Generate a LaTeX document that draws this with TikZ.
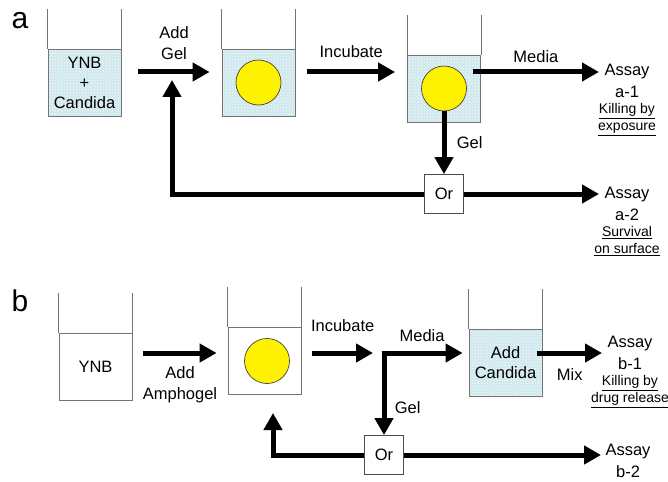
\documentclass[tikz,border=0pt]{standalone}
\usepackage{fontspec}
\setmainfont{Liberation Sans}
\usetikzlibrary{arrows.meta,patterns,positioning}

\definecolor{water}{RGB}{206,232,238}
\definecolor{gelyellow}{RGB}{255,242,0}

\tikzset{
  flow/.style={line width=5pt, -{Triangle[length=17pt,width=18pt]}},
  wall/.style={draw=black!55, line width=0.8pt},
  liquid/.style={wall, minimum width=73pt, minimum height=67pt, inner sep=0pt,
    align=center, font=\fontsize{16.5}{20}\selectfont},
  filled/.style={preaction={fill=water}, pattern=crosshatch dots, pattern color=white},
  gel/.style={circle, draw=black!75, line width=0.7pt, fill=gelyellow,
    minimum size=45pt, inner sep=0pt},
  orbox/.style={draw=black!70, line width=0.8pt, fill=white, minimum size=39pt,
    inner sep=0pt, font=\fontsize{16.5}{18}\selectfont},
  lbl/.style={align=center, font=\fontsize{16.5}{20.5}\selectfont},
  assay/.style={align=center, font=\fontsize{16.5}{22}\selectfont},
  note/.style={align=center, font=\fontsize{14}{17}\selectfont},
  panel/.style={font=\fontsize{30}{30}\selectfont, inner sep=0pt}
}

\begin{document}
\begin{tikzpicture}[x=1pt, y=-1pt]
  \useasboundingbox (0,0) rectangle (668,481);

  % Panel a
  \node[panel] (pa) at (20,20.5) {a};
  \node[liquid, filled] (a1) at (84.5,82.5) {YNB\\+\\Candida};
  \node[liquid, filled] (a2) at (258.5,82.5) {};
  \node[liquid, filled] (a3) at (444,88.5) {};
  \node[gel] (ga2) at (a2) {};
  \node[gel] (ga3) at (a3) {};
  \node[orbox] (ora) at (444,194) {Or};
  \node[assay] (asa1) at (627,81) {Assay\\a-1};
  \node[note, below=-1pt of asa1] (nta1) {\underline{Killing by}\\\underline{exposure}};
  \node[assay] (asa2) at (627,204) {Assay\\a-2};
  \node[note, below=-1pt of asa2] (nta2) {\underline{Survival}\\\underline{on surface}};

  \coordinate (rowa) at (0,72);
  \coordinate (loopa) at (172,80);

  \draw[flow] ([xshift=17pt]a1.east |- rowa) -- ([xshift=-12pt]a2.west |- rowa)
    node[lbl, midway, above=7pt] {Add\\Gel};
  \draw[flow] ([xshift=12pt]a2.east |- rowa) -- ([xshift=-12pt]a3.west |- rowa)
    node[lbl, midway, above=9pt] {Incubate};
  \draw[flow] ([xshift=6pt]ga3.east |- rowa) -- ([xshift=-2pt]asa1.west |- rowa)
    node[lbl, midway, above=4pt] {Media};
  \draw[flow] (ga3.south) -- (ora.north) node[lbl, midway, right=7pt] {Gel};
  \draw[flow] (ora.east) -- ([xshift=-2pt]asa2.west |- ora.east);
  \draw[flow] (ora.west) -| (loopa);

  % Panel b
  \node[panel] (pb) at (20,300.5) {b};
  \node[liquid, fill=white] (b1) at (95.5,366.5) {YNB};
  \node[liquid, fill=white] (b2) at (264.5,360.5) {};
  \node[liquid, filled] (b3) at (505.5,362.5) {Add\\Candida};
  \node[gel] (gb2) at (267,361) {};
  \node[orbox] (orb) at (384,455) {Or};
  \node[assay] (asb1) at (630,353) {Assay\\b-1};
  \node[note, below=-1pt of asb1] (ntb1) {\underline{Killing by}\\\underline{drug release}};
  \node[assay] (asb2) at (628,461) {Assay\\b-2};

  \coordinate (rowb) at (0,353);
  \coordinate (split) at (384,353);
  \coordinate (loopb) at (273,413);

  \draw[flow] ([xshift=11pt]b1.east |- rowb) -- ([xshift=-11pt]b2.west |- rowb)
    node[lbl, midway, below=8pt] {Add\\Amphogel};
  \draw[flow] ([xshift=11pt]b2.east |- rowb) -- ([xshift=-11pt]split)
    node[lbl, midway, above=16pt] {Incubate};
  \draw[flow] ([xshift=-2.5pt]split) -- ([xshift=-6pt]b3.west |- rowb)
    node[lbl, midway, above=6pt] {Media};
  \draw[flow] ([yshift=-2.5pt]split) -- (orb.north)
    node[lbl, pos=0.65, right=5pt] {Gel};
  \draw[flow] ([xshift=-5pt]b3.east |- rowb) -- ([xshift=-2pt]asb1.west |- rowb)
    node[lbl, midway, below=10pt] {Mix};
  \draw[flow] (orb.east) -- ([xshift=-1pt]asb2.west |- orb.east);
  \draw[flow] (orb.west) -| (loopb);

  % beaker walls
  \foreach \b in {a1,a2,a3,b1,b2,b3}
    \draw[wall] (\b.north west) -- ++(0,-40) (\b.north east) -- ++(0,-40);
\end{tikzpicture}
\end{document}
